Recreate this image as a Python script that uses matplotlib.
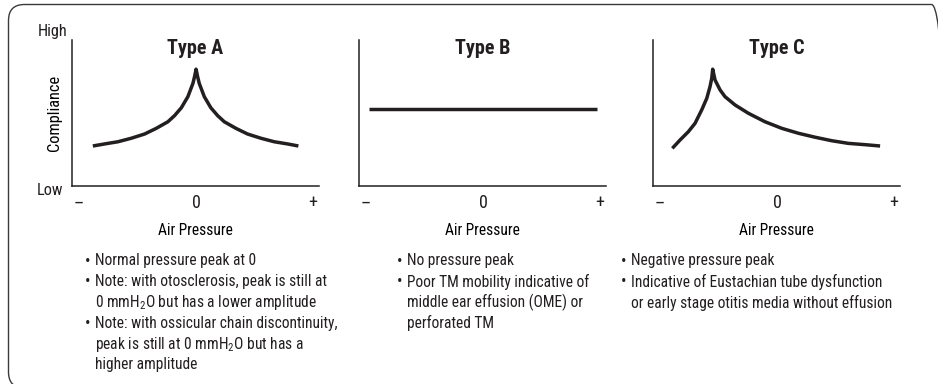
import matplotlib
matplotlib.use("Agg")
import matplotlib.pyplot as plt
from matplotlib.patches import FancyBboxPatch
from matplotlib.transforms import IdentityTransform
from matplotlib import font_manager

W, H = 938, 384
INK = "#231f20"

names = {f.name for f in font_manager.fontManager.ttflist}
FONT = "DejaVu Sans"
for cand in ["Roboto Condensed", "Archivo Narrow", "Fira Sans Condensed", "Barlow Semi Condensed", "Asap Condensed"]:
    if cand in names:
        FONT = cand
        break
plt.rcParams["font.family"] = [FONT, "DejaVu Sans"]
plt.rcParams["text.color"] = INK

# curve readings (x: -1 = "-", 0 = "0", +1 = "+"; y: 0 = Low, 1 = High)
type_a_x = [-0.882, -0.782, -0.668, -0.554, -0.44, -0.34, -0.241, -0.184, -0.126, -0.07, -0.027, -0.013, 0.0,
            0.013, 0.027, 0.07, 0.126, 0.184, 0.241, 0.34, 0.44, 0.554, 0.668, 0.782, 0.874]
type_a_y = [0.274, 0.288, 0.303, 0.327, 0.356, 0.395, 0.44, 0.482, 0.536, 0.612, 0.703, 0.749, 0.80,
            0.749, 0.703, 0.612, 0.536, 0.482, 0.44, 0.395, 0.356, 0.327, 0.303, 0.288, 0.274]

type_b_x = [-0.975, 0.974]
type_b_y = [0.527, 0.527]

type_c_x = [-0.895, -0.829, -0.758, -0.701, -0.644, -0.601, -0.573, -0.558, -0.55, -0.53, -0.487, -0.445,
            -0.359, -0.245, -0.103, 0.04, 0.183, 0.325, 0.468, 0.609, 0.753, 0.88]
type_c_y = [0.258, 0.315, 0.372, 0.429, 0.521, 0.60, 0.68, 0.738, 0.80, 0.726, 0.658, 0.612,
            0.555, 0.498, 0.44, 0.395, 0.361, 0.334, 0.31, 0.292, 0.283, 0.274]

titles = ["Type A", "Type B", "Type C"]
tick_labels = ["\u2013", "0", "+"]
H2O = r"mmH$_{\mathregular{2}}$O"

notes_a = [
    (True, "Normal pressure peak at 0"),
    (True, "Note: with otosclerosis, peak is still at"),
    (False, "0 " + H2O + " but has a lower amplitude"),
    (True, "Note: with ossicular chain discontinuity,"),
    (False, "peak is still at 0 " + H2O + " but has a"),
    (False, "higher amplitude"),
]
notes_b = [
    (True, "No pressure peak"),
    (True, "Poor TM mobility indicative of"),
    (False, "middle ear effusion (OME) or"),
    (False, "perforated TM"),
]
notes_c = [
    (True, "Negative pressure peak"),
    (True, "Indicative of Eustachian tube dysfunction"),
    (False, "or early stage otitis media without effusion"),
]

fig = plt.figure(figsize=(W / 100, H / 100), dpi=100)

# rounded frame in pixels (bottom and right edge run off the picture)
frame = FancyBboxPatch((8.5, -4), 939, 383.5,
                       boxstyle="round,pad=0,rounding_size=16",
                       transform=IdentityTransform(), fill=False,
                       edgecolor="#3a3a3a", linewidth=1.0)
fig.patches.append(frame)

lefts = [72, 359, 653]
curves = [(type_a_x, type_a_y), (type_b_x, type_b_y), (type_c_x, type_c_y)]
notes = [notes_a, notes_b, notes_c]
note_x = [85, 397, 621]
top, bottom, width = 40, 186, 247
body = dict(fontsize=11.2)

for i in range(3):
    ax = fig.add_axes([lefts[i] / W, 1 - bottom / H, width / W, (bottom - top) / H])
    x, y = curves[i]
    ax.plot(x, y, color=INK, linewidth=2.5, solid_capstyle="butt", solid_joinstyle="round")
    ax.set_xlim(-1.06, 1.05)
    ax.set_ylim(0, 1)
    for s in ["top", "right"]:
        ax.spines[s].set_visible(False)
    for s in ["left", "bottom"]:
        ax.spines[s].set_linewidth(1.1)
        ax.spines[s].set_color(INK)
    ax.set_xticks([-1, 0, 1])
    ax.set_xticklabels(tick_labels, fontsize=13)
    ax.tick_params(axis="x", length=0, pad=6, colors=INK)
    ax.set_yticks([])
    ax.set_xlabel("Air Pressure", labelpad=8, **body)
    ax.text(0.5, 0.945, titles[i], transform=ax.transAxes, ha="center", va="center",
            fontsize=14.5, fontweight="bold")
    if i == 0:
        ax.set_ylabel("Compliance", fontsize=11.8, labelpad=7)
        ax.text(-0.02, 1.055, "High", transform=ax.transAxes, ha="right", va="center", fontsize=11.8)
        ax.text(-0.035, -0.03, "Low", transform=ax.transAxes, ha="right", va="center", fontsize=11.8)

    # bullet notes
    row = 0
    for bullet, line in notes[i]:
        ypx = 261 + row * 20.8
        if bullet:
            fig.text(note_x[i] / W, 1 - ypx / H, "\u2022", ha="left", va="center", fontsize=12)
        fig.text((note_x[i] + 10) / W, 1 - ypx / H, line, ha="left", va="center", **body)
        row += 1

fig.savefig("out.png", dpi=100)
